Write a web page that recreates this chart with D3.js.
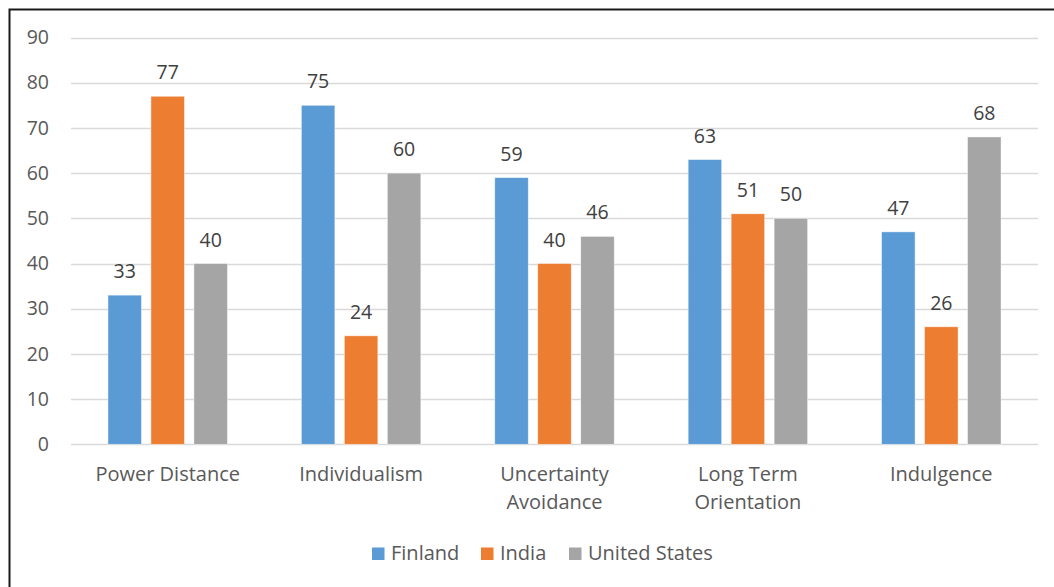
<!DOCTYPE html>
<html>
<head>
<meta charset="utf-8">
<script src="https://cdn.jsdelivr.net/npm/d3@7"></script>
<style>
  body { margin: 0; background: #fff; }
  svg { display: block; font-family: "Open Sans", "Noto Sans", sans-serif; }
</style>
</head>
<body>
<svg id="chart" width="1054" height="587"></svg>
<script>
// Hofstede cultural dimension scores
const categories = ["Power Distance", "Individualism", "Uncertainty Avoidance", "Long Term Orientation", "Indulgence"];
const categoryLines = [["Power Distance"], ["Individualism"], ["Uncertainty", "Avoidance"], ["Long Term", "Orientation"], ["Indulgence"]];
const seriesNames = ["Finland", "India", "United States"];
const finland = [33, 75, 59, 63, 47];
const india = [77, 24, 40, 51, 26];
const unitedStates = [40, 60, 46, 50, 68];
const yTicks = [0, 10, 20, 30, 40, 50, 60, 70, 80, 90];
const colors = ["#5B9BD5", "#ED7D31", "#A5A5A5"];

const seriesValues = [finland, india, unitedStates];
const textColor = "#595959";
const numSize = "19.5px";
const labelSize = "20px";

const svg = d3.select("#chart");

// outer frame
svg.append("rect")
  .attr("x", 9.5).attr("y", 9.5)
  .attr("width", 1100).attr("height", 700)
  .attr("fill", "none").attr("stroke", "#1a1a1a").attr("stroke-width", 2);

const plot = { left: 71, right: 1038, top: 37.5, bottom: 444.3 };

const y = d3.scaleLinear().domain([0, 90]).range([plot.bottom, plot.top]);
const x0 = d3.scaleBand().domain(categories).range([plot.left, plot.right]).padding(0);
const groupWidth = 119.5;
const x1 = d3.scaleBand().domain(seriesNames).range([-groupWidth / 2, groupWidth / 2])
  .paddingInner(0.22).paddingOuter(0);

// gridlines
const grid = svg.append("g");
grid.selectAll("line").data(yTicks).join("line")
  .attr("x1", plot.left).attr("x2", plot.right)
  .attr("y1", d => Math.round(y(d)) + 0.5).attr("y2", d => Math.round(y(d)) + 0.5)
  .attr("stroke", "#d9d9d9").attr("stroke-width", 1.5);

// y axis labels
const yAxis = svg.append("g")
  .attr("transform", `translate(${plot.left - 22},0)`)
  .call(d3.axisLeft(y).tickValues(yTicks).tickSize(0).tickPadding(0));
yAxis.select(".domain").remove();
yAxis.selectAll("text")
  .attr("fill", textColor)
  .style("font-size", numSize)
  .style("font-family", "\"Open Sans\", sans-serif");

// bars
const groups = svg.append("g").selectAll("g").data(categories).join("g")
  .attr("transform", d => `translate(${x0(d) + x0.bandwidth() / 2},0)`);

groups.each(function(cat, ci) {
  const g = d3.select(this);
  const rows = seriesNames.map((s, si) => ({ s, si, v: seriesValues[si][ci] }));
  g.selectAll("rect").data(rows).join("rect")
    .attr("x", d => x1(d.s))
    .attr("y", d => y(d.v))
    .attr("width", x1.bandwidth())
    .attr("height", d => y(0) - y(d.v))
    .attr("fill", d => colors[d.si])
    .attr("stroke", "#ffffff").attr("stroke-opacity", 0.6).attr("stroke-width", 0.75);
  g.selectAll("text.val").data(rows).join("text")
    .attr("class", "val")
    .attr("x", d => x1(d.s) + x1.bandwidth() / 2)
    .attr("y", d => y(d.v) - 17)
    .attr("text-anchor", "middle")
    .attr("fill", "#404040")
    .style("font-size", numSize)
    .text(d => d.v);
});

// category labels
const xLab = svg.append("g");
categories.forEach((c, i) => {
  const t = xLab.append("text")
    .attr("x", x0(c) + x0.bandwidth() / 2)
    .attr("y", 481)
    .attr("text-anchor", "middle")
    .attr("fill", textColor)
    .style("font-size", labelSize);
  categoryLines[i].forEach((line, li) => {
    t.append("tspan").attr("x", x0(c) + x0.bandwidth() / 2)
      .attr("dy", li === 0 ? 0 : 28).text(line);
  });
});

// legend
const legendX = [372, 481, 569];
const legend = svg.append("g");
seriesNames.forEach((s, i) => {
  legend.append("rect")
    .attr("x", legendX[i]).attr("y", 547.5)
    .attr("width", 12.5).attr("height", 12.5)
    .attr("fill", colors[i]);
  legend.append("text")
    .attr("x", legendX[i] + 19).attr("y", 559.5)
    .attr("fill", textColor)
    .style("font-size", labelSize)
    .text(s);
});
</script>
</body>
</html>
